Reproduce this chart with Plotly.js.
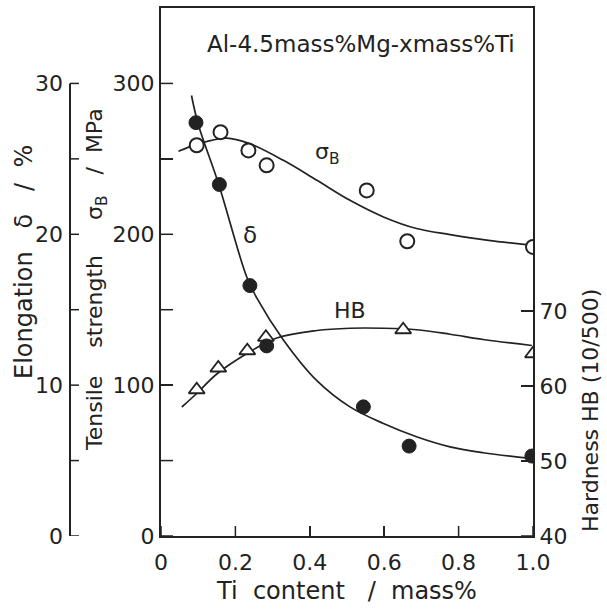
<!DOCTYPE html>
<html>
<head>
<meta charset="utf-8">
<script src="https://cdn.plot.ly/plotly-3.0.1.min.js"></script>
<style>
  html, body { margin: 0; padding: 0; background: #fff; }
  #chart { width: 607px; height: 610px; }
</style>
</head>
<body>
<div id="chart"></div>
<script>
// Tensile strength σB (MPa), measured
const tiSigma = [0.096, 0.16, 0.235, 0.284, 0.553, 0.662, 1.0];
const sigmaB  = [259, 267.7, 255.6, 245.7, 229.1, 195.4, 191.6];

// Elongation δ (%), measured
const tiDelta = [0.094, 0.157, 0.239, 0.284, 0.544, 0.667, 0.997];
const delta   = [27.4, 23.3, 16.6, 12.6, 8.56, 5.96, 5.3];

// Brinell hardness HB (10/500), measured
const tiHB     = [0.096, 0.154, 0.232, 0.282, 0.651, 1.0];
const hardness = [59.5, 62.4, 64.7, 66.5, 67.5, 64.3];

// Hand-drawn trend curves
const sigmaCurveX = [0.047, 0.096, 0.177, 0.239, 0.329, 0.419, 0.508, 0.598, 0.687, 0.777, 0.88, 1.0];
const sigmaCurveY = [255, 259.6, 263.8, 260, 249, 235.8, 222.5, 211.5, 203.8, 199.8, 196, 192.7];

const deltaCurveX = [0.082, 0.1, 0.154, 0.23, 0.257, 0.329, 0.419, 0.508, 0.598, 0.687, 0.777, 0.866, 0.992];
const deltaCurveY = [29.2, 27.3, 23.4, 17.2, 15.8, 13.0, 10.3, 8.56, 7.46, 6.58, 5.91, 5.52, 5.15];

const hbCurveX = [0.056, 0.096, 0.15, 0.23, 0.311, 0.419, 0.508, 0.598, 0.687, 0.777, 0.866, 0.997];
const hbCurveY = [57.2, 59.0, 61.6, 64.3, 66.4, 67.4, 67.7, 67.7, 67.5, 66.9, 66.2, 65.4];

// Axis ticks and labels
const xTicks      = [0, 0.2, 0.4, 0.6, 0.8, 1.0];
const xTickText   = ['0', '0.2', '0.4', '0.6', '0.8', '1.0'];
const sigmaTicks  = [0, 50, 100, 150, 200, 250, 300];
const sigmaText   = ['0', ' ', '100', ' ', '200', ' ', '300'];
const deltaTicks  = [0, 5, 10, 15, 20, 25, 30];
const deltaText   = ['0', '', '10', '', '20', '', '30'];
const hbTicks     = [40, 50, 60, 70];
const hbText      = ['40', '50', '60', '70'];

const INK = '#222';
const FONT = 'DejaVu Sans, sans-serif';
const NB = n => '\u00a0'.repeat(n);

// plot-area geometry in pixels
const PW = 463, PH = 528;
const X0 = 91 / PW;
const XSPAN = PW - 91;                 // pixels covered by the Ti axis
const SIGMA_MAX = 350, HB_MIN = 40, HB_MAX = 110.4, DELTA_MAX = 35;

const lineStyle = { color: INK, width: 1.7, shape: 'spline', smoothing: 1 };
const tickLine = { color: INK, width: 1.5 };

// Inward tick marks of the framed plot, drawn on each axis' own scale
const xTickLen = 10 * SIGMA_MAX / PH;          // 10 px expressed in MPa
const yTickLen = 12 / XSPAN;                   // 12 px expressed in Ti units
const tickTraces = [
  { x: xTicks.flatMap(v => [v, v, null]),
    y: xTicks.flatMap(() => [0, xTickLen, null]), yaxis: 'y' },
  { x: sigmaTicks.flatMap(() => [0, yTickLen, null]),
    y: sigmaTicks.flatMap(v => [v, v, null]), yaxis: 'y' },
  { x: hbTicks.flatMap(() => [1 - yTickLen, 1, null]),
    y: hbTicks.flatMap(v => [v, v, null]), yaxis: 'y2' }
].map(t => Object.assign(t, { mode: 'lines', line: tickLine, connectgaps: false, hoverinfo: 'skip' }));

const traces = tickTraces.concat([
  { x: sigmaCurveX, y: sigmaCurveY, yaxis: 'y',  mode: 'lines', line: lineStyle, hoverinfo: 'skip' },
  { x: hbCurveX,    y: hbCurveY,    yaxis: 'y2', mode: 'lines', line: lineStyle, hoverinfo: 'skip' },
  { x: deltaCurveX, y: deltaCurveY, yaxis: 'y3', mode: 'lines', line: lineStyle, hoverinfo: 'skip' },
  { x: tiSigma, y: sigmaB, yaxis: 'y', mode: 'markers', name: 'σB',
    marker: { symbol: 'circle', size: 14, color: '#fff', line: { color: INK, width: 2 } } },
  { x: tiHB, y: hardness, yaxis: 'y2', mode: 'markers', name: 'HB',
    marker: { symbol: 'triangle-up', size: 14, color: '#fff', line: { color: INK, width: 1.8 } } },
  { x: tiDelta, y: delta, yaxis: 'y3', mode: 'markers', name: 'δ',
    marker: { symbol: 'circle', size: 14, color: INK, line: { color: INK, width: 1 } } }
]);

const tickFont = { family: FONT, size: 22, color: INK };

function vTitle(text, px, py, size) {
  return {
    xref: 'paper', yref: 'paper', x: (px - 70) / PW, y: (536 - py) / PH,
    xanchor: 'center', yanchor: 'middle', textangle: -90,
    text: text, showarrow: false, font: { family: FONT, size: size, color: INK }
  };
}
function label(text, px, py, size) {
  return {
    xref: 'paper', yref: 'paper', x: (px - 70) / PW, y: (536 - py) / PH,
    xanchor: 'center', yanchor: 'middle',
    text: text, showarrow: false, font: { family: FONT, size: size, color: INK }
  };
}

// Detached elongation scale at the far left: spine, inward ticks and labels,
// all placed on the y3 scale that carries the δ data.
const elongShapes = [
  { type: 'line', xref: 'paper', yref: 'y3', x0: 0, x1: 0,
    y0: deltaTicks[0], y1: deltaTicks[deltaTicks.length - 1],
    line: { color: INK, width: 2 } }
].concat(deltaTicks.map(v => ({
  type: 'line', xref: 'paper', yref: 'y3', x0: 0, x1: 9 / PW, y0: v, y1: v, line: tickLine
})));
const elongLabels = deltaTicks
  .map((v, i) => ({ v: v, t: deltaText[i] }))
  .filter(d => d.t !== '')
  .map(d => ({
    xref: 'paper', yref: 'y3', x: 0, y: d.v, xanchor: 'right', yanchor: 'middle',
    xshift: -5, text: d.t, showarrow: false, font: tickFont
  }));

const layout = {
  width: 607, height: 610,
  margin: { l: 70, r: 74, t: 8, b: 74 },
  paper_bgcolor: '#fff', plot_bgcolor: '#fff',
  showlegend: false,
  xaxis: {
    domain: [X0, 1], range: [0, 1],
    showline: true, linecolor: INK, linewidth: 2, mirror: true,
    ticks: 'inside', ticklen: 10, tickwidth: 1.5, tickcolor: INK,
    tickvals: xTicks, ticktext: xTickText, tickfont: tickFont, ticklabelstandoff: 6,
    showgrid: false, zeroline: false,
    title: { text: 'Ti' + NB(2) + 'content' + NB(3) + '/' + NB(2) + 'mass%',
             font: { family: FONT, size: 24, color: INK }, standoff: 8 }
  },
  yaxis: {
    range: [0, SIGMA_MAX], anchor: 'x',
    showline: true, linecolor: INK, linewidth: 2,
    ticks: 'inside', ticklen: 12, tickwidth: 1.5, tickcolor: INK,
    tickvals: sigmaTicks, ticktext: sigmaText, tickfont: tickFont,
    showgrid: false, zeroline: false
  },
  yaxis2: {
    range: [HB_MIN, HB_MAX], overlaying: 'y', side: 'right', anchor: 'x',
    showline: true, linecolor: INK, linewidth: 2,
    ticks: 'inside', ticklen: 12, tickwidth: 1.5, tickcolor: INK,
    tickvals: hbTicks, ticktext: hbText, tickfont: tickFont,
    showgrid: false, zeroline: false
  },
  yaxis3: {
    range: [0, DELTA_MAX], overlaying: 'y', side: 'left', anchor: 'x',
    showline: false, ticks: '', showticklabels: false,
    showgrid: false, zeroline: false
  },
  shapes: elongShapes,
  annotations: [
    label('Al-4.5mass%Mg-xmass%Ti', 361, 44, 23),
    label('σ<sub>B</sub>', 327, 153, 22),
    label('δ', 250, 235, 23),
    label('HB', 350, 310, 22),
    vTitle('Elongation' + NB(3) + 'δ' + NB(3) + '/' + NB(2) + '%', 24, 262, 24),
    vTitle('Tensile' + NB(4) + 'strength' + NB(5) + 'σ<sub>B</sub>' + NB(3) + '/' + NB(2) + 'MPa', 96, 280, 22),
    vTitle('Hardness' + NB(1) + 'HB' + NB(1) + '(10/500)', 591, 411, 22)
  ].concat(elongLabels)
};

Plotly.newPlot('chart', traces, layout, { staticPlot: true, displayModeBar: false });
</script>
</body>
</html>
